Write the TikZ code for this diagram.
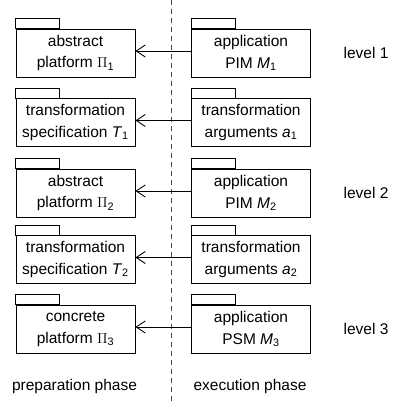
\documentclass[tikz,border=0pt]{standalone}
\usepackage{fontspec}
\setmainfont{Liberation Sans}
\usetikzlibrary{arrows.meta}
\begin{document}
\begin{tikzpicture}[x=1pt,y=-1pt,
  txt/.style={font=\fontsize{15.5}{21.5}\selectfont, inner sep=0pt},
  pkg/.style={draw, line width=0.9pt, minimum width=119pt, minimum height=48pt, align=center, txt,
    append after command={\pgfextra{\draw[line width=0.9pt] (\tikzlastnode.north west) rectangle ++(44,-10);}}},
  arr/.style={line width=0.9pt, -{Straight Barb[length=9pt,width=12pt,line width=0.9pt]}},
  sep/.style={draw=black!70, line width=1pt, dash pattern=on 5pt off 4pt}]
\useasboundingbox (0,0) rectangle (394,401);
\coordinate (st) at (171,0);
\coordinate (sb) at (171,401);
\draw[sep] (st) -- (sb);
% left column
\node[pkg] (l1) at (75.5,53) {abstract\\platform \(\Pi\)\textsubscript{1}};
\node[pkg] (l2) at (75.5,122.5) {transformation\\specification \textit{T}\textsubscript{1}};
\node[pkg] (l3) at (75.5,193) {abstract\\platform \(\Pi\)\textsubscript{2}};
\node[pkg] (l4) at (75.5,259.5) {transformation\\specification \textit{T}\textsubscript{2}};
\node[pkg] (l5) at (75.5,329) {concrete\\platform \(\Pi\)\textsubscript{3}};
% right column
\node[pkg] (r1) at (251,53) {application\\PIM \textit{M}\textsubscript{1}};
\node[pkg] (r2) at (251,122.5) {transformation\\arguments \textit{a}\textsubscript{1}};
\node[pkg] (r3) at (251,193) {application\\PIM \textit{M}\textsubscript{2}};
\node[pkg] (r4) at (251,259.5) {transformation\\arguments \textit{a}\textsubscript{2}};
\node[pkg] (r5) at (251,329) {application\\PSM \textit{M}\textsubscript{3}};
% arrows
\foreach \i in {1,...,5} \draw[arr] ([yshift=2pt]r\i.west) -- ([yshift=2pt]l\i.east);
% levels
\node[txt] (lv1) at (366,53) {level 1};
\node[txt] (lv2) at (366,193) {level 2};
\node[txt] (lv3) at (366,329) {level 3};
% phases
\node[txt] (pp) at (74.5,386) {preparation phase};
\node[txt] (ep) at (250,386) {execution phase};
\end{tikzpicture}
\end{document}
